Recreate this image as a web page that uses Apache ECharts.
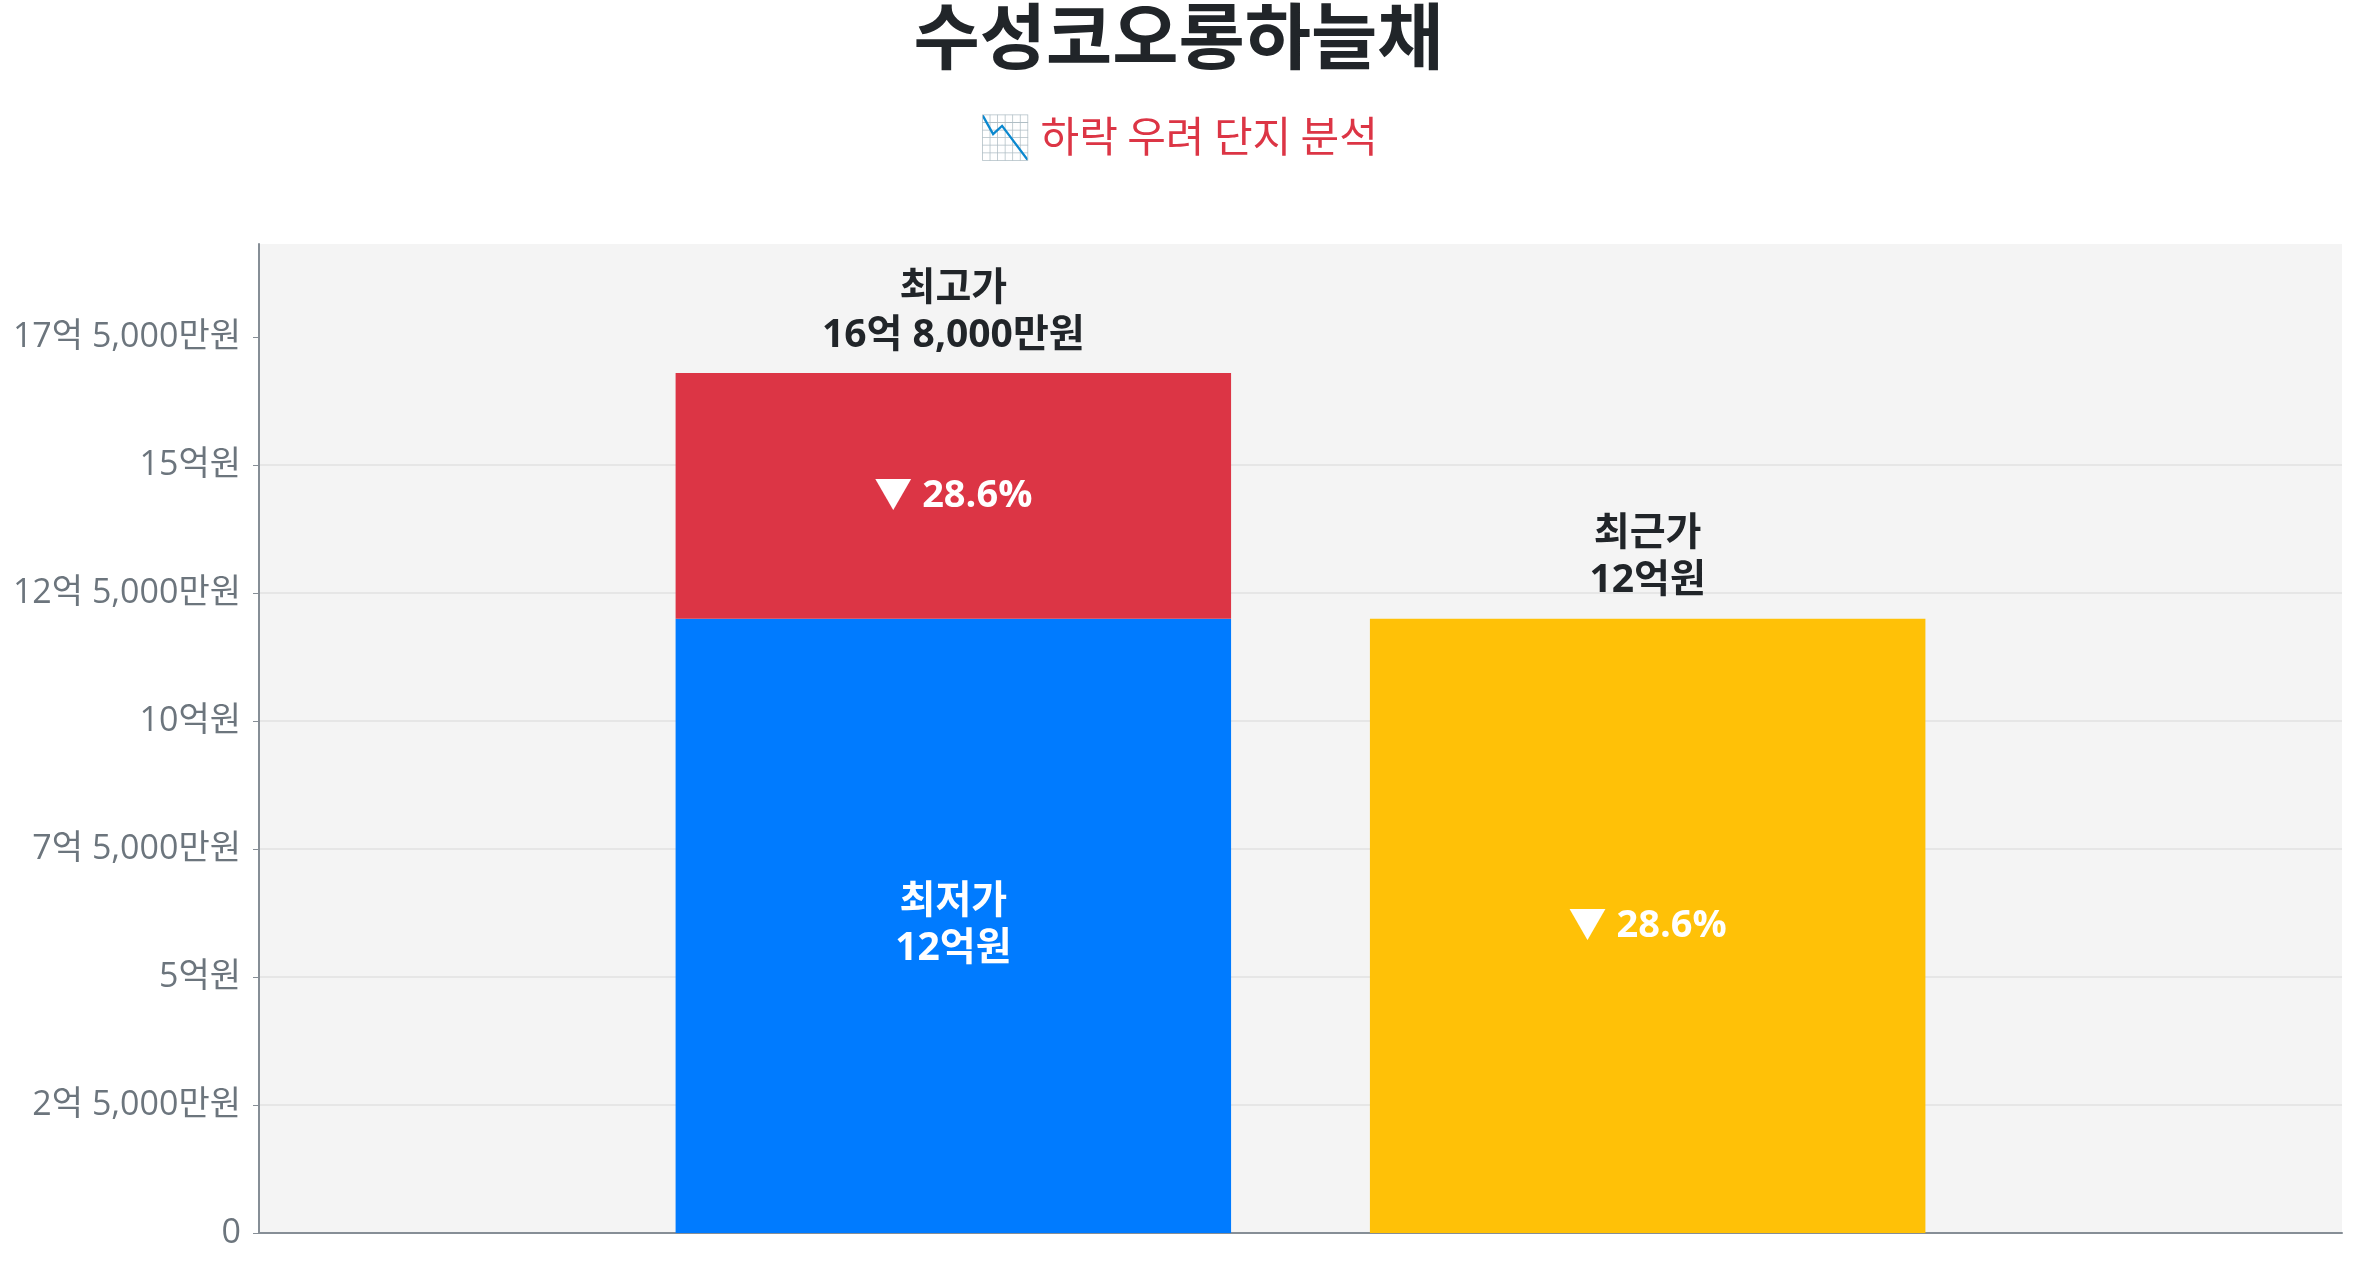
<!DOCTYPE html>
<html>
<head>
<meta charset="utf-8">
<title>수성코오롱하늘채</title>
<script src="https://cdn.jsdelivr.net/npm/echarts@6/dist/echarts.min.js"></script>
<style>
  html, body { margin: 0; padding: 0; background: #fff; }
  #chart { width: 2357px; height: 1268px; }
</style>
</head>
<body>
<div id="chart"></div>
<script>
// 단위: 만원
var categories = ['가격'];
var lowPrice = [120000];     // 최저가
var highPrice = [168000];    // 최고가
var recentPrice = [120000];  // 최근가
var highDropRate = ['28.6%'];
var recentDropRate = ['28.6%'];
var yTicks = [0, 25000, 50000, 75000, 100000, 125000, 150000, 175000];
var yMax = 193200;

var FONT = "'Open Sans', 'Noto Sans CJK KR', sans-serif";
var CJK = "'Noto Sans CJK KR', sans-serif";

function fmtWon(v) {
    if (v === 0) return '0';
    var eok = Math.floor(v / 10000);
    var man = Math.round(v % 10000);
    var s = '';
    if (eok > 0) s += eok + '억';
    if (man > 0) {
        s += (s ? ' ' : '') + man.toLocaleString('en-US') + '만원';
    } else {
        s += '원';
    }
    return s;
}

var gapData = highPrice.map(function (h, i) { return h - lowPrice[i]; });
var zeroData = categories.map(function () { return 0; });

var labelBase = {
    show: true,
    fontSize: 39,
    fontWeight: 'bold',
    lineHeight: 47,
    fontFamily: FONT
};

var myChart = echarts.init(document.getElementById('chart'));
var option = {
    animation: false,
    textStyle: { fontFamily: FONT },
    title: {
        text: '수성코오롱하늘채',
        subtext: '📉 하락 우려 단지 분석',
        left: 'center',
        top: 0,
        padding: 0,
        itemGap: 43,
        textStyle: { fontSize: 72, fontWeight: 'bold', color: '#212529', fontFamily: CJK },
        subtextStyle: { fontSize: 42, color: '#dc3545', fontFamily: CJK }
    },
    grid: {
        left: 259,
        right: 15,
        top: 244,
        bottom: 35,
        show: true,
        backgroundColor: '#f4f4f4',
        borderWidth: 0
    },
    xAxis: {
        type: 'category',
        data: categories,
        axisTick: { show: false },
        axisLabel: { show: false },
        axisLine: { lineStyle: { color: '#868e96', width: 2 } }
    },
    yAxis: {
        type: 'value',
        min: 0,
        max: yMax,
        axisLine: { show: true, lineStyle: { color: '#868e96', width: 2 } },
        axisTick: { show: true, length: 6, customValues: yTicks, lineStyle: { color: '#868e96' } },
        splitLine: { showMaxLine: false, lineStyle: { color: '#e6e6e6', width: 2 } },
        axisLabel: {
            customValues: yTicks,
            margin: 18,
            fontSize: 34,
            color: '#6c757d',
            fontFamily: FONT,
            formatter: fmtWon
        }
    },
    series: [
        {
            name: '최저가',
            type: 'bar',
            stack: 'price',
            data: lowPrice,
            barCategoryGap: '40%',
            barGap: '25%',
            itemStyle: { color: '#007bff' },
            label: Object.assign({}, labelBase, {
                position: 'inside',
                color: '#fff',
                formatter: function (p) { return '최저가\n' + fmtWon(p.value); }
            })
        },
        {
            name: '하락폭',
            type: 'bar',
            stack: 'price',
            data: gapData,
            itemStyle: { color: '#dc3545' },
            label: Object.assign({}, labelBase, {
                position: 'inside',
                color: '#fff',
                fontSize: 38,
                formatter: function (p) { return '▼ ' + highDropRate[p.dataIndex]; }
            })
        },
        {
            name: '최고가',
            type: 'bar',
            stack: 'price',
            data: zeroData,
            itemStyle: { color: 'transparent' },
            label: Object.assign({}, labelBase, {
                position: 'top',
                distance: 14,
                color: '#212529',
                formatter: function (p) { return '최고가\n' + fmtWon(highPrice[p.dataIndex]); }
            })
        },
        {
            name: '최근가',
            type: 'bar',
            stack: 'recent',
            data: recentPrice,
            itemStyle: { color: '#ffc107' },
            label: Object.assign({}, labelBase, {
                position: 'inside',
                color: '#fff',
                fontSize: 38,
                formatter: function (p) { return '▼ ' + recentDropRate[p.dataIndex]; }
            })
        },
        {
            name: '최근가 표시',
            type: 'bar',
            stack: 'recent',
            data: zeroData,
            itemStyle: { color: 'transparent' },
            label: Object.assign({}, labelBase, {
                position: 'top',
                distance: 14,
                color: '#212529',
                formatter: function (p) { return '최근가\n' + fmtWon(recentPrice[p.dataIndex]); }
            })
        }
    ]
};
myChart.setOption(option);
</script>
</body>
</html>
